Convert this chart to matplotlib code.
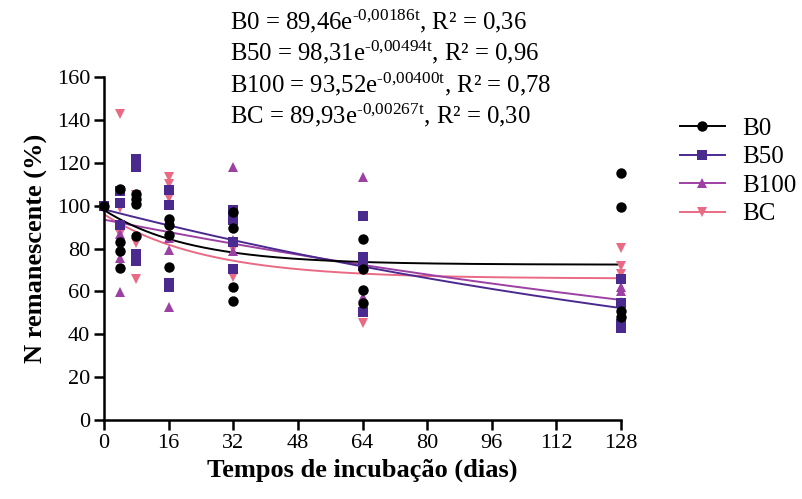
import numpy as np
import matplotlib
matplotlib.use("Agg")
import matplotlib.pyplot as plt
from matplotlib.lines import Line2D

plt.rcParams["font.family"] = ["Liberation Serif", "DejaVu Serif"]
plt.rcParams["mathtext.fontset"] = "custom"
plt.rcParams["mathtext.rm"] = "Liberation Serif"
plt.rcParams["mathtext.it"] = "Liberation Serif"

# --- dados (N remanescente %, por tempo de incubação) ---
B0_DAYS = [0, 4, 4, 4, 4, 8, 8, 8, 8, 16, 16, 16, 16, 32, 32, 32, 32, 64, 64, 64, 64, 128, 128, 128, 128]
B0_VALS = [100, 107.7, 83, 79, 71, 105.5, 103, 101, 86, 94, 91, 86.3, 71.5, 97, 89.4, 62.2, 55.5,
           84.3, 70.7, 60.6, 54.4, 115.3, 99.2, 51, 48]

B50_DAYS = [0, 4, 4, 4, 8, 8, 8, 8, 16, 16, 16, 16, 32, 32, 32, 32, 64, 64, 64, 64, 128, 128, 128, 128]
B50_VALS = [100, 107, 101.5, 91, 122, 118, 77.5, 74, 107.3, 100.3, 64, 62, 98, 93.3, 83, 70.7,
            95.3, 76.2, 72, 50.5, 65.6, 54.4, 45, 43]

B100_DAYS = [0, 4, 4, 4, 8, 16, 16, 16, 32, 32, 32, 64, 64, 64, 64, 128, 128, 128]
B100_VALS = [100, 87, 75.5, 59.7, 103, 85, 79.3, 52.8, 118, 84, 79, 113.5, 73, 72, 57.5, 62.2, 60, 55]

BC_DAYS = [0, 4, 4, 4, 8, 8, 8, 16, 16, 16, 32, 32, 32, 64, 64, 128, 128, 128]
BC_VALS = [100, 142.7, 99, 87, 105, 82.5, 66, 113.5, 110, 103.5, 83, 80, 66.8, 72, 45.1, 80.4, 71.8, 68]

# curvas ajustadas (Y0, platô, k)
FIT_B0 = (98.0, 72.5, 0.047)
FIT_B50 = (98.31, 0.0, 0.00494)
FIT_B100 = (93.52, 0.0, 0.00400)
FIT_BC = (96.0, 66.0, 0.040)

EQUATIONS = [
    r"B0 = 89,46e$^{\mathrm{‐0{,}00186t}}$, R² = 0,36",
    r"B50 = 98,31e$^{\mathrm{‐0{,}00494t}}$, R² = 0,96",
    r"B100 = 93,52e$^{\mathrm{‐0{,}00400t}}$, R² = 0,78",
    r"BC = 89,93e$^{\mathrm{‐0{,}00267t}}$, R² = 0,30",
]

COL_B0 = "#000000"
COL_B50 = "#4b2a90"
COL_B100 = "#9c40a4"
COL_BC = "#ea6a84"

series = [
    ("BC", BC_DAYS, BC_VALS, FIT_BC, COL_BC, "v"),
    ("B100", B100_DAYS, B100_VALS, FIT_B100, COL_B100, "^"),
    ("B50", B50_DAYS, B50_VALS, FIT_B50, COL_B50, "s"),
    ("B0", B0_DAYS, B0_VALS, FIT_B0, COL_B0, "o"),
]

fig = plt.figure(figsize=(8.02, 4.99), dpi=100)
ax = fig.add_axes([0.1297, 0.1583, 0.6446, 0.687])

t = np.linspace(0, 128, 300)
for name, days, vals, (y0, plat, k), col, mk in series:
    ax.plot(t, (y0 - plat) * np.exp(-k * t) + plat, color=col, lw=1.4, zorder=2)
for name, days, vals, fit, col, mk in series:
    ax.plot(days, vals, linestyle="none", marker=mk, color=col, markersize=7.5,
            markeredgewidth=0, zorder=3, clip_on=False)

ax.set_xlim(0, 128)
ax.set_ylim(0, 160)
ax.set_xticks(np.arange(0, 129, 16))
ax.set_yticks(np.arange(0, 161, 20))
ax.tick_params(axis="both", direction="out", length=7, width=1.8, labelsize=16, pad=3)
for side in ["top", "right"]:
    ax.spines[side].set_visible(False)
for side in ["left", "bottom"]:
    ax.spines[side].set_linewidth(1.8)

ax.set_xlabel("Tempos de incubação (dias)", fontsize=19, fontweight="bold", labelpad=4)
ax.set_ylabel("N remanescente (%)", fontsize=19, fontweight="bold", labelpad=6)

for i, eq in enumerate(EQUATIONS):
    fig.text(230 / 802, 1 - (29 + 31.5 * i) / 499, eq, fontsize=17.8, ha="left", va="baseline")

handles = [Line2D([0], [0], color=c, marker=m, markersize=7.5, markeredgewidth=0, lw=1.4)
           for _, _, _, _, c, m in reversed(series)]
labels = [s[0] for s in reversed(series)]
fig.legend(handles, labels, loc="upper left", bbox_to_anchor=(0.835, 0.785), frameon=False,
           fontsize=18, handlelength=1.8, handletextpad=0.7, labelspacing=0.24,
           borderaxespad=0)

fig.savefig("out.png", dpi=100)
